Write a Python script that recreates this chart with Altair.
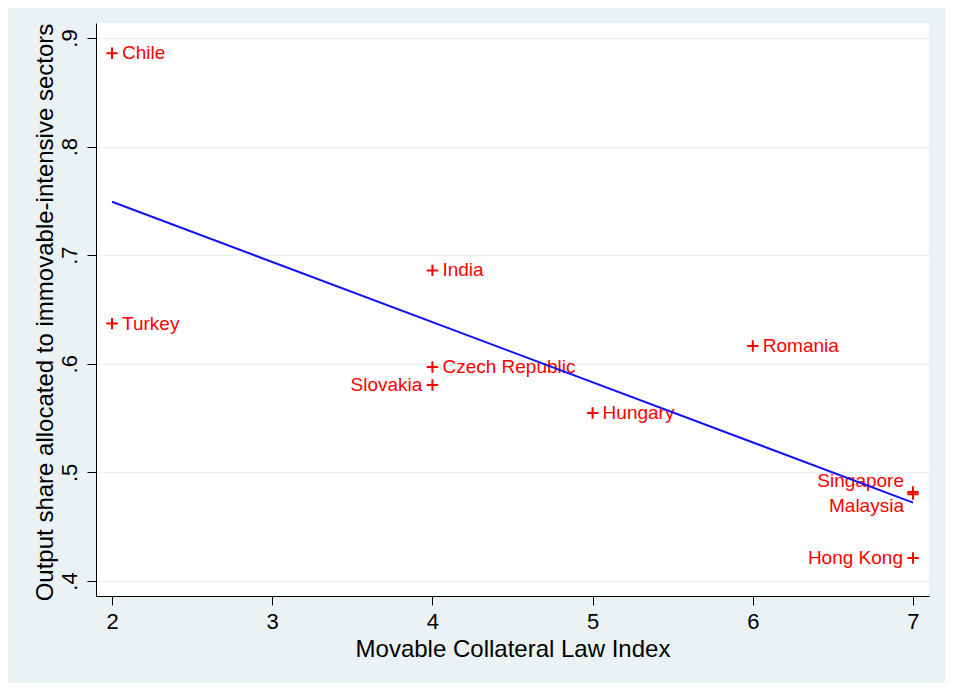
import altair as alt
import pandas as pd

countries = ["Chile", "Turkey", "India", "Czech Republic", "Slovakia",
             "Hungary", "Romania", "Singapore", "Malaysia", "Hong Kong"]
collateral_index = [2, 2, 4, 4, 4, 5, 6, 7, 7, 7]
output_share = [0.886, 0.637, 0.686, 0.597, 0.5805, 0.5547, 0.6164, 0.482, 0.480, 0.4212]

# label placement groups (Stata-style clock positions)
labels_right = ["Chile", "Turkey", "India", "Czech Republic", "Hungary", "Romania"]
labels_left = ["Slovakia", "Hong Kong"]
labels_upper_left = ["Singapore"]
labels_lower_left = ["Malaysia"]

x_ticks = [2, 3, 4, 5, 6, 7]
y_ticks = [0.4, 0.5, 0.6, 0.7, 0.8, 0.9]

df = pd.DataFrame({"country": countries, "x": collateral_index, "y": output_share})

FONT = "Liberation Sans"
RED = "#ff0000"
BLUE = "#1010ff"
BG = "#eaf2f3"

xscale = alt.Scale(domain=[1.9, 7.1], nice=False, zero=False)
yscale = alt.Scale(domain=[0.3862, 0.9138], nice=False, zero=False)

xaxis = alt.Axis(
    title="Movable Collateral Law Index", values=x_ticks, format="d",
    grid=False, domainColor="black", domainWidth=1, tickColor="black",
    tickSize=9, tickWidth=1, labelFontSize=22, labelFont=FONT, labelColor="black",
    labelPadding=6, titleFont=FONT, titleFontSize=24, titleFontWeight="normal",
    titleColor="black", titleY=60, titleBaseline="alphabetic",
)
yaxis = alt.Axis(
    title="Output share allocated to immovable-intensive sectors", values=y_ticks,
    labelExpr="substring(format(datum.value, '.1f'), 1)",
    grid=True, gridColor=BG, gridWidth=1.5,
    domainColor="black", domainWidth=1, tickColor="black", tickSize=9, tickWidth=1,
    labelFontSize=22, labelFont=FONT, labelColor="black", labelAngle=270,
    labelAlign="center", labelBaseline="bottom", labelPadding=6,
    titleFont=FONT, titleFontSize=24, titleFontWeight="normal", titleColor="black",
    titleAngle=270, titleX=-44, titleY=289, titleBaseline="alphabetic",
    titleAlign="center",
)

base = alt.Chart(df)

points = base.mark_point(
    shape="M-1,0H1M0,-1V1", size=130, filled=False, stroke=RED, strokeWidth=2, opacity=1
).encode(
    x=alt.X("x:Q", scale=xscale, axis=xaxis),
    y=alt.Y("y:Q", scale=yscale, axis=yaxis),
)


def text_layer(names, align, dx, dy):
    return base.transform_filter(
        alt.FieldOneOfPredicate(field="country", oneOf=names)
    ).mark_text(
        align=align, baseline="middle", dx=dx, dy=dy, font=FONT, fontSize=19, color=RED
    ).encode(x=alt.X("x:Q", scale=xscale), y=alt.Y("y:Q", scale=yscale), text="country:N")


t_right = text_layer(labels_right, "left", 10, 0)
t_left = text_layer(labels_left, "right", -10, 0)
t_ul = text_layer(labels_upper_left, "right", -9, -11)
t_ll = text_layer(labels_lower_left, "right", -9, 12)

fit = base.transform_regression("x", "y", extent=[2, 7]).mark_line(
    color=BLUE, strokeWidth=2
).encode(x=alt.X("x:Q", scale=xscale), y=alt.Y("y:Q", scale=yscale))

chart = alt.layer(points, t_right, t_left, t_ul, t_ll, fit).properties(
    width=833, height=573,
    autosize=alt.AutoSizeParams(type="none"),
    padding={"left": 88, "top": 15, "right": 16, "bottom": 87},
    background=BG,
).configure_view(stroke=None, fill="white")

chart.save("out.html", embed_options={"renderer": "svg", "actions": False})
